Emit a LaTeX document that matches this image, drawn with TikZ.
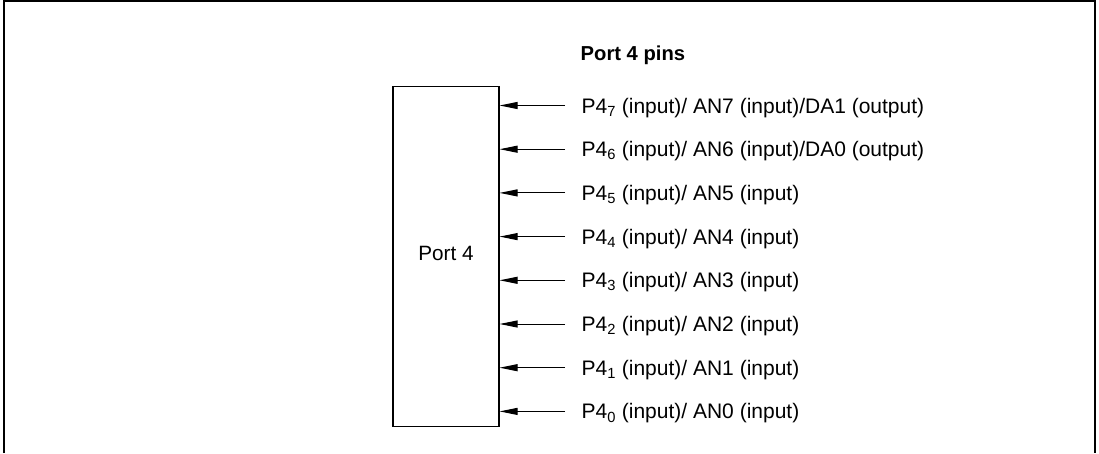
\documentclass[tikz,border=0pt]{standalone}
\usepackage{fontspec}
\setmainfont{Liberation Sans}
\usetikzlibrary{arrows.meta,positioning}

\begin{document}
\begin{tikzpicture}[x=1pt, y=-1pt,
  port/.style={draw, line width=1.2pt, minimum width=106pt, minimum height=340pt,
               inner sep=0pt, text depth=6pt, font=\fontsize{20.7pt}{24pt}\selectfont},
  pin/.style={inner xsep=16.5pt, inner ysep=0pt, text height=15pt, text depth=0pt,
              minimum height=43.3pt, font=\fontsize{21pt}{24pt}\selectfont},
  title/.style={inner sep=0pt, font=\fontsize{20.2pt}{24pt}\selectfont\bfseries},
  pinarrow/.style={draw, line width=1pt, -{Triangle[length=18pt, width=7pt]}}
]
  \useasboundingbox (0,0) rectangle (1099,453);
  \draw[line width=2pt] (4,453) -- (4,1) -- (1095,1) -- (1095,453);

  \node[port] (port) at (446,256.7) {Port 4};
  \node[title, anchor=base west] (title) at (580.5,60) {Port 4 pins};

  \node[pin, anchor=west] (pin7) at (565,105.5) {P4\textsubscript{7} (input)/ AN7 (input)/DA1 (output)};
  \node[pin, below=0pt of pin7.south west, anchor=north west] (pin6) {P4\textsubscript{6} (input)/ AN6 (input)/DA0 (output)};
  \node[pin, below=0pt of pin6.south west, anchor=north west] (pin5) {P4\textsubscript{5} (input)/ AN5 (input)};
  \node[pin, below=0pt of pin5.south west, anchor=north west] (pin4) {P4\textsubscript{4} (input)/ AN4 (input)};
  \node[pin, below=0pt of pin4.south west, anchor=north west] (pin3) {P4\textsubscript{3} (input)/ AN3 (input)};
  \node[pin, below=0pt of pin3.south west, anchor=north west] (pin2) {P4\textsubscript{2} (input)/ AN2 (input)};
  \node[pin, below=0pt of pin2.south west, anchor=north west] (pin1) {P4\textsubscript{1} (input)/ AN1 (input)};
  \node[pin, below=0pt of pin1.south west, anchor=north west] (pin0) {P4\textsubscript{0} (input)/ AN0 (input)};

  \draw[pinarrow] (pin7.west) -- (pin7.west -| port.east);
  \draw[pinarrow] (pin6.west) -- (pin6.west -| port.east);
  \draw[pinarrow] (pin5.west) -- (pin5.west -| port.east);
  \draw[pinarrow] (pin4.west) -- (pin4.west -| port.east);
  \draw[pinarrow] (pin3.west) -- (pin3.west -| port.east);
  \draw[pinarrow] (pin2.west) -- (pin2.west -| port.east);
  \draw[pinarrow] (pin1.west) -- (pin1.west -| port.east);
  \draw[pinarrow] (pin0.west) -- (pin0.west -| port.east);
\end{tikzpicture}
\end{document}
